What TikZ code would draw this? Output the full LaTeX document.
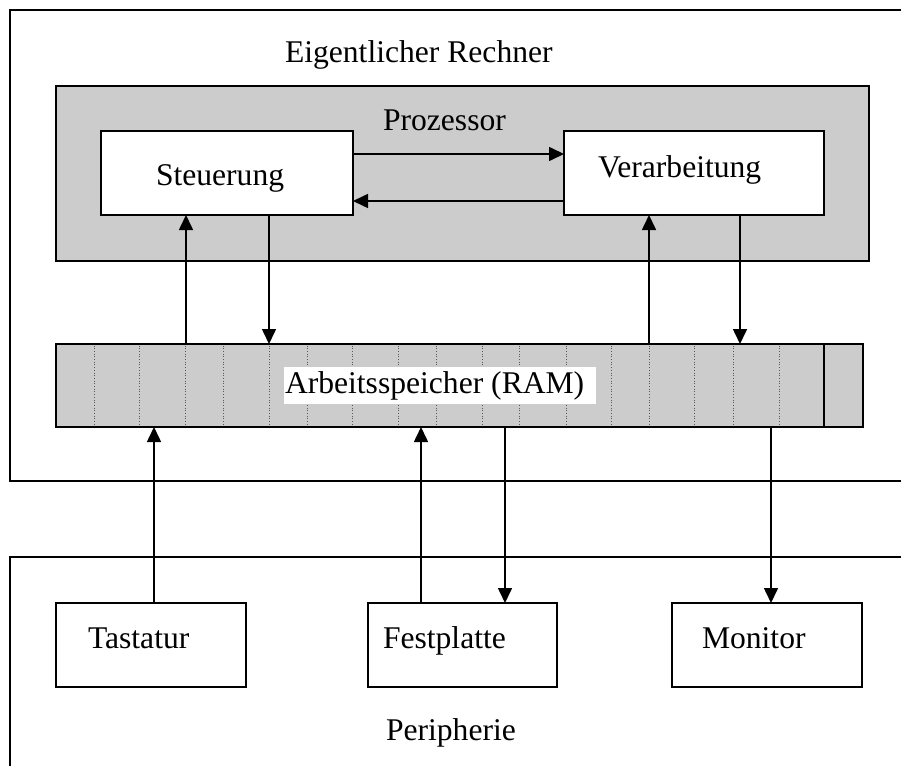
\documentclass[tikz,border=0pt]{standalone}
\usepackage{fontspec}
\setmainfont{Liberation Serif}
\usetikzlibrary{arrows.meta}
\definecolor{panel}{RGB}{204,204,204}
\begin{document}
\begin{tikzpicture}[x=1pt,y=-1pt,
  lbl/.style={inner sep=0pt,outer sep=0pt,font=\fontsize{31.6}{38}\selectfont},
  box/.style={draw=black,line width=2.2pt,fill=white,rectangle,inner sep=0pt,outer sep=0pt,anchor=north west},
  arr/.style={line width=1.6pt,-{Triangle[length=15pt,width=14pt]}},
  cell/.style={draw=gray!70!black,line width=0.7pt,dotted}]
\useasboundingbox (0,0) rectangle (901,765);
\clip (0,0) rectangle (901,765);

% frames for the computer proper and the peripherals (open to the right)
\draw[line width=2.6pt] (10,10) rectangle (940,481);
\draw[line width=2.6pt] (10,557) rectangle (940,800);
\node[lbl,anchor=base west] (rechner) at (285,63) {Eigentlicher Rechner};
\node[lbl,anchor=base west] (peri) at (386,740) {Peripherie};

% processor
\node[box,fill=panel,line width=2.5pt,minimum width=813pt,minimum height=175pt] (proz) at (56,86) {};
\node[lbl,anchor=base west] (prozt) at (383,130) {Prozessor};
\node[box,minimum width=252pt,minimum height=84pt] (steu) at (101,131) {};
\node[lbl,anchor=base west] (steut) at (156,185) {Steuerung};
\node[box,minimum width=260pt,minimum height=84pt] (verarb) at (564,131) {};
\node[lbl,anchor=base west] (verarbt) at (598,177) {Verarbeitung};

% main memory
\node[box,fill=panel,minimum width=807pt,minimum height=83pt] (ram) at (56,344) {};
\foreach \cx in {94,139,185,223,269,307,352,398,436,482,519,566,611,649,694,733,779}
  \draw[cell] (\cx,345.5) -- (\cx,425.5);
\draw[line width=2.5pt] (824,344) -- (824,427);
\fill[white] (284,367) rectangle (596,404);
\node[lbl,anchor=base west] (ramt) at (285,393) {Arbeitsspeicher (RAM)};

% peripheral devices
\node[box,minimum width=190pt,minimum height=84pt] (tast) at (56,603) {};
\node[lbl,anchor=base west] (tastt) at (88,648) {Tastatur};
\node[box,minimum width=189pt,minimum height=84pt] (fest) at (368,603) {};
\node[lbl,anchor=base west] (festt) at (383,648) {Festplatte};
\node[box,minimum width=190pt,minimum height=84pt] (mon) at (672,603) {};
\node[lbl,anchor=base west] (mont) at (702,648) {Monitor};

% data paths
\draw[arr] (steu.east |- 0,154) -- (verarb.west |- 0,154);
\draw[arr] (verarb.west |- 0,201) -- (steu.east |- 0,201);
\draw[arr] (ram.north -| 186,0) -- (steu.south -| 186,0);
\draw[arr] (steu.south -| 269,0) -- (ram.north -| 269,0);
\draw[arr] (ram.north -| 649,0) -- (verarb.south -| 649,0);
\draw[arr] (verarb.south -| 740,0) -- (ram.north -| 740,0);
\draw[arr] (tast.north -| 154,0) -- (ram.south -| 154,0);
\draw[arr] (fest.north -| 421,0) -- (ram.south -| 421,0);
\draw[arr] (ram.south -| 505,0) -- (fest.north -| 505,0);
\draw[arr] (ram.south -| 771,0) -- (mon.north -| 771,0);
\end{tikzpicture}
\end{document}
